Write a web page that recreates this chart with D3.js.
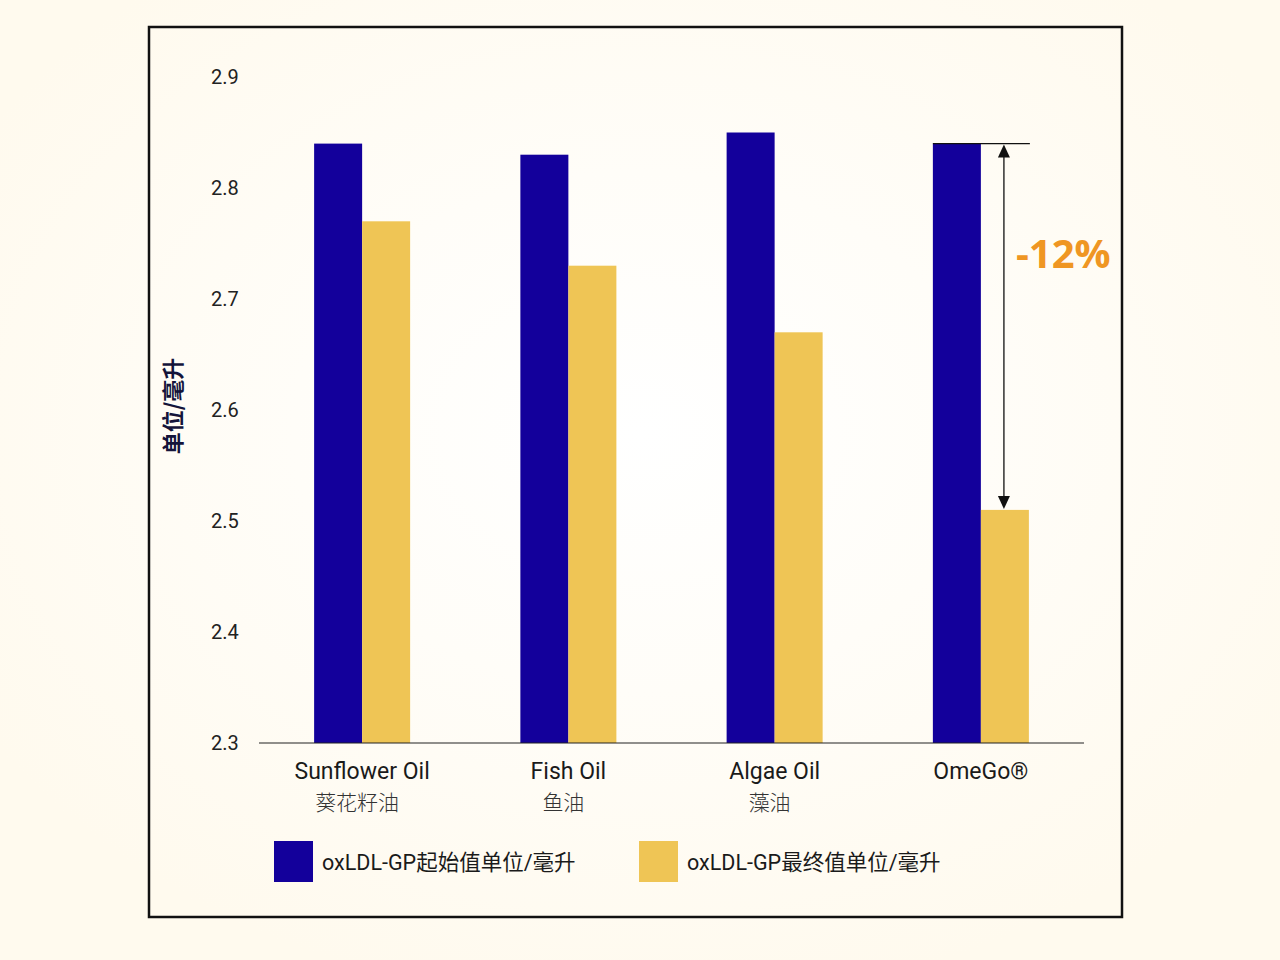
<!DOCTYPE html>
<html><head><meta charset="utf-8">
<script src="https://cdn.jsdelivr.net/npm/d3@7"></script>
<style>
html,body{margin:0;padding:0;background:#fffaee;}
svg{display:block;}
</style></head>
<body>
<script>
const categoriesEn = ["Sunflower Oil","Fish Oil","Algae Oil","OmeGo®"];
const categoriesZh = ["葵花籽油","鱼油","藻油",""];
const initialValues = [2.84, 2.83, 2.85, 2.84];
const finalValues = [2.77, 2.73, 2.67, 2.51];
const seriesNames = ["oxLDL-GP起始值单位/毫升","oxLDL-GP最终值单位/毫升"];
const yTicks = [2.3, 2.4, 2.5, 2.6, 2.7, 2.8, 2.9];
const yLabel = "单位/毫升";
const changeLabel = "-12%";

const W = 1280, H = 960;
const colors = ["#13009b", "#efc555"];
const svg = d3.select("body").append("svg").attr("width", W).attr("height", H);

const defs = svg.append("defs");
const rg = defs.append("radialGradient").attr("id","bg").attr("cx","50%").attr("cy","45%").attr("r","60%");
rg.append("stop").attr("offset","0%").attr("stop-color","#ffffff");
rg.append("stop").attr("offset","45%").attr("stop-color","#fffdf8");
rg.append("stop").attr("offset","100%").attr("stop-color","#fffaee");
svg.append("rect").attr("width",W).attr("height",H).attr("fill","url(#bg)");

svg.append("rect").attr("x",149).attr("y",27).attr("width",973).attr("height",890)
  .attr("fill","none").attr("stroke","#111").attr("stroke-width",2.5);

const x = d3.scaleBand().domain(categoriesEn).range([259,1084]).paddingInner(0.5345).paddingOuter(0.5345/2);
const xs = d3.scaleBand().domain([0,1]).range([0, x.bandwidth()]);
const y = d3.scaleLinear().domain([2.3, 2.9]).range([743, 77]);

// y tick labels
svg.append("g").selectAll("text").data(yTicks).join("text")
  .attr("x", 211).attr("y", d => y(d)).attr("dy","0.35em")
  .attr("font-family","Roboto, 'Noto Sans', sans-serif").attr("font-size",20).attr("fill","#222")
  .text(d => d3.format(".1f")(d));

// bars
const series = [initialValues, finalValues];
series.forEach((vals, si) => {
  svg.append("g").selectAll("rect").data(vals).join("rect")
    .attr("x", (d,i) => x(categoriesEn[i]) + xs(si))
    .attr("width", xs.bandwidth())
    .attr("y", d => y(d))
    .attr("height", d => y(2.3) - y(d))
    .attr("fill", colors[si]);
});

// axis line
svg.append("line").attr("x1",259).attr("x2",1084).attr("y1",y(2.3)).attr("y2",y(2.3))
  .attr("stroke","#222").attr("stroke-width",1.2);

// category labels
svg.append("g").selectAll("text").data(categoriesEn).join("text")
  .attr("x", d => x(d) + x.bandwidth()/2).attr("y", 771).attr("dy","0.35em")
  .attr("text-anchor","middle").attr("font-family","Roboto, 'Noto Sans', sans-serif")
  .attr("font-size",23).attr("fill","#1a1a1a").text(d => d);
svg.append("g").selectAll("text").data(categoriesZh).join("text")
  .attr("x", (d,i) => x(categoriesEn[i]) + x.bandwidth()/2 - 5).attr("y", 803).attr("dy","0.35em")
  .attr("text-anchor","middle").attr("font-family","'Noto Sans CJK SC', sans-serif").attr("font-weight",300)
  .attr("font-size",21).attr("fill","#333").text(d => d);

// y label
svg.append("text").attr("transform","translate(173,406) rotate(-90)")
  .attr("text-anchor","middle").attr("dy","0.35em")
  .attr("font-family","'Noto Sans CJK SC', sans-serif").attr("font-weight",700)
  .attr("font-size",22).attr("fill","#14143a").text(yLabel);

// legend
const legX = [274, 639];
seriesNames.forEach((name, i) => {
  svg.append("rect").attr("x", legX[i]).attr("y", 841).attr("width", 39).attr("height", 41).attr("fill", colors[i]);
  svg.append("text").attr("x", legX[i] + 48).attr("y", 862).attr("dy","0.35em")
    .attr("font-family","Roboto, 'Noto Sans CJK SC', sans-serif").attr("font-size",21.5).attr("fill","#1a1a1a")
    .text(name);
});

// annotation
const last = categoriesEn.length - 1;
const gx0 = x(categoriesEn[last]);
const topY = y(initialValues[last]);
const botY = y(finalValues[last]);
const ax = gx0 + x.bandwidth()*0.74;
svg.append("line").attr("x1", gx0).attr("x2", gx0 + x.bandwidth() + 1).attr("y1", topY).attr("y2", topY)
  .attr("stroke","#111").attr("stroke-width",1.3);
svg.append("line").attr("x1", ax).attr("x2", ax).attr("y1", topY + 12).attr("y2", botY - 12)
  .attr("stroke","#111").attr("stroke-width",1.3);
svg.append("path").attr("d", `M${ax},${topY+1} L${ax-6},${topY+14} L${ax+6},${topY+14} Z`).attr("fill","#111");
svg.append("path").attr("d", `M${ax},${botY-1} L${ax-6},${botY-14} L${ax+6},${botY-14} Z`).attr("fill","#111");
svg.append("text").attr("x", 1016).attr("y", 254).attr("dy","0.35em")
  .attr("font-family","'Open Sans', 'Noto Sans', sans-serif").attr("font-weight",700)
  .attr("font-size",40).attr("fill","#ef9623").text(changeLabel);
</script>
</body></html>
